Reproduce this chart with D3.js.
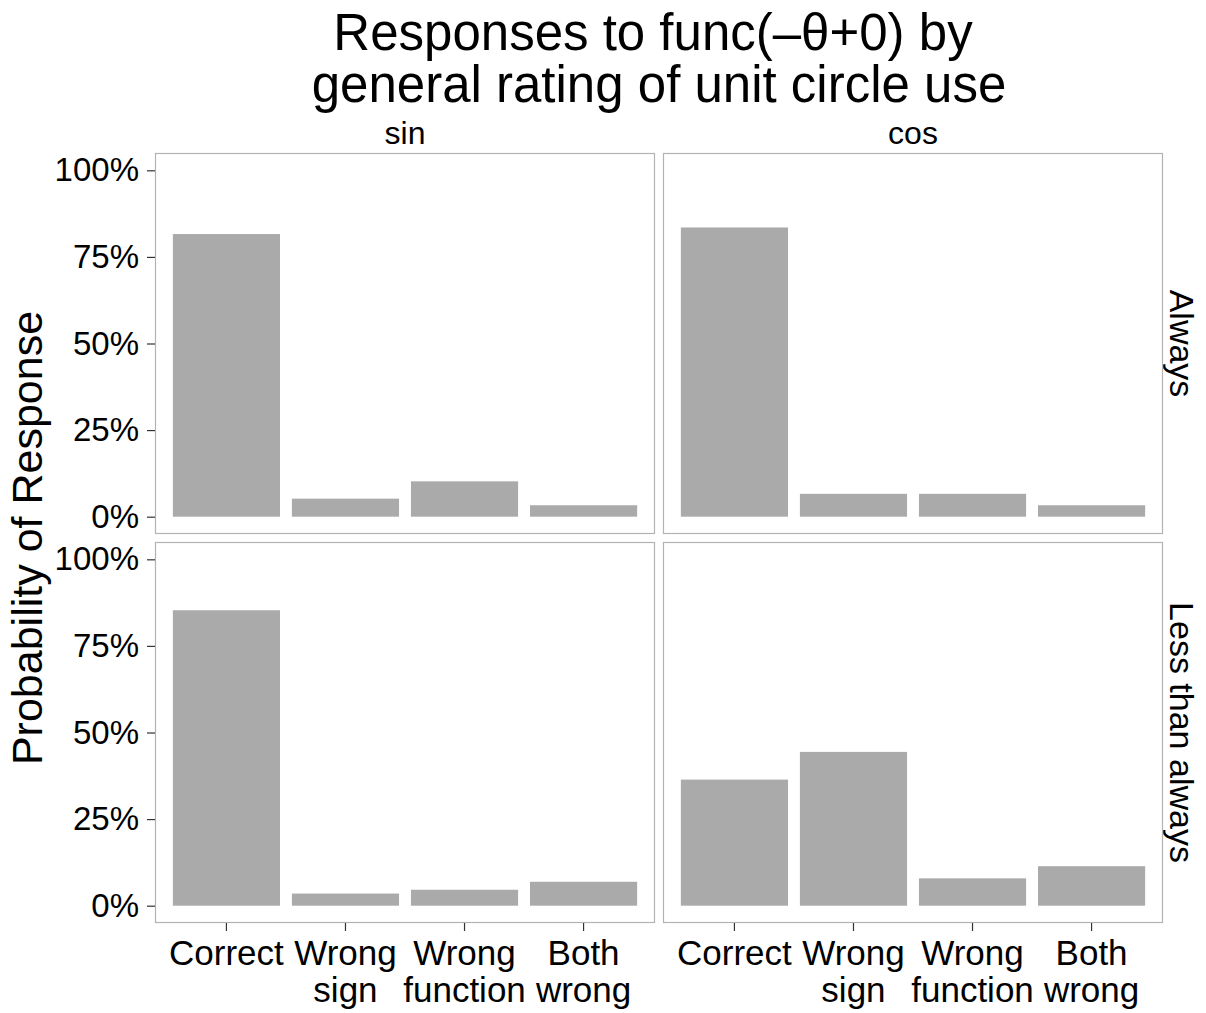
<!DOCTYPE html>
<html>
<head>
<meta charset="utf-8">
<script src="https://cdn.jsdelivr.net/npm/d3@7"></script>
<style>
  body { margin: 0; background: #fff; }
  text { font-family: "Liberation Sans", Arial, sans-serif; fill: #000; }
</style>
</head>
<body>
<script>
const categories = ["Correct", "Wrong\nsign", "Wrong\nfunction", "Both\nwrong"];
const funcs = ["sin", "cos"];
const ratings = ["Always", "Less than always"];
const yTicks = [0, 0.25, 0.5, 0.75, 1];

// values per panel, in category order
const sinAlways = [0.816, 0.052, 0.102, 0.033];
const cosAlways = [0.835, 0.066, 0.066, 0.033];
const sinLess = [0.853, 0.035, 0.046, 0.069];
const cosLess = [0.364, 0.444, 0.079, 0.114];

const panels = [
    { func: "sin", rating: "Always", values: sinAlways },
    { func: "cos", rating: "Always", values: cosAlways },
    { func: "sin", rating: "Less than always", values: sinLess },
    { func: "cos", rating: "Less than always", values: cosLess }
];

const W = 1206, H = 1013;
const panelW = 500, panelH = 381, gap = 8;
const panelLeft = 155, panelTop = 153;

const svg = d3.select("body").append("svg")
    .attr("width", W)
    .attr("height", H);

// title
const title = svg.append("text")
    .attr("text-anchor", "middle")
    .attr("font-size", 51);
title.append("tspan").attr("x", 653).attr("y", 50).text("Responses to func(\u2013\u03b8+0) by");
title.append("tspan").attr("x", 659).attr("y", 102).text("general rating of unit circle use");

// ggplot style discrete axis: 0.6 step of space at each end, bars 0.9 wide
const x = d3.scaleBand().domain(categories)
    .range([0, panelW]).paddingInner(0.1).paddingOuter(0.15);
const y = d3.scaleLinear().domain([-0.05, 1.05]).range([panelH, 0]);

const colX = d => panelLeft + funcs.indexOf(d) * (panelW + gap);
const rowY = d => panelTop + ratings.indexOf(d) * (panelH + gap);

// column strips
svg.selectAll(".strip-col").data(funcs).enter().append("text")
    .attr("x", d => colX(d) + panelW / 2)
    .attr("y", 144)
    .attr("text-anchor", "middle")
    .attr("font-size", 32)
    .text(d => d);

// row strips
svg.selectAll(".strip-row").data(ratings).enter().append("text")
    .attr("transform", d => "translate(1170," + (rowY(d) + panelH / 2) + ") rotate(90)")
    .attr("text-anchor", "middle")
    .attr("font-size", 34)
    .text(d => d);

const panel = svg.selectAll(".panel").data(panels).enter().append("g")
    .attr("class", "panel")
    .attr("transform", d => "translate(" + colX(d.func) + "," + rowY(d.rating) + ")");

panel.selectAll("rect.bar")
    .data(d => d.values.map((v, i) => ({ cat: categories[i], v })))
    .enter().append("rect")
    .attr("class", "bar")
    .attr("x", d => x(d.cat))
    .attr("width", x.bandwidth())
    .attr("y", d => y(d.v))
    .attr("height", d => y(0) - y(d.v))
    .attr("fill", "#aaaaaa");

panel.append("rect")
    .attr("x", 0.5).attr("y", 0.5)
    .attr("width", panelW - 1).attr("height", panelH - 1)
    .attr("fill", "none")
    .attr("stroke", "#b3b3b3")
    .attr("stroke-width", 1.2);

// y axes on left column
ratings.forEach(r => {
    const g = svg.append("g")
        .attr("transform", "translate(" + panelLeft + "," + rowY(r) + ")")
        .call(d3.axisLeft(y).tickValues(yTicks).tickFormat(d3.format(".0%")).tickSize(8).tickPadding(8));
    g.select(".domain").remove();
    g.selectAll(".tick line").attr("stroke", "#333").attr("stroke-width", 1.2);
    g.selectAll(".tick text").attr("font-size", 33).attr("fill", "#000")
        .attr("font-family", "Liberation Sans, Arial, sans-serif");
});

// x axes on bottom row
funcs.forEach(f => {
    const g = svg.append("g")
        .attr("transform", "translate(" + colX(f) + "," + (panelTop + 2 * panelH + gap) + ")")
        .call(d3.axisBottom(x).tickSize(8).tickFormat(""));
    g.select(".domain").remove();
    g.selectAll(".tick line").attr("stroke", "#333").attr("stroke-width", 1.2);
    g.selectAll(".tick").each(function (d) {
        const t = d3.select(this).append("text")
            .attr("text-anchor", "middle")
            .attr("font-size", 35)
            .attr("font-family", "Liberation Sans, Arial, sans-serif");
        d.split("\n").forEach((line, i) => {
            t.append("tspan").attr("x", 0).attr("y", 42 + i * 37).text(line);
        });
    });
});

// y axis title
svg.append("text")
    .attr("transform", "translate(42," + (panelTop + panelH + gap / 2) + ") rotate(-90)")
    .attr("text-anchor", "middle")
    .attr("font-size", 43)
    .text("Probability of Response");
</script>
</body>
</html>
